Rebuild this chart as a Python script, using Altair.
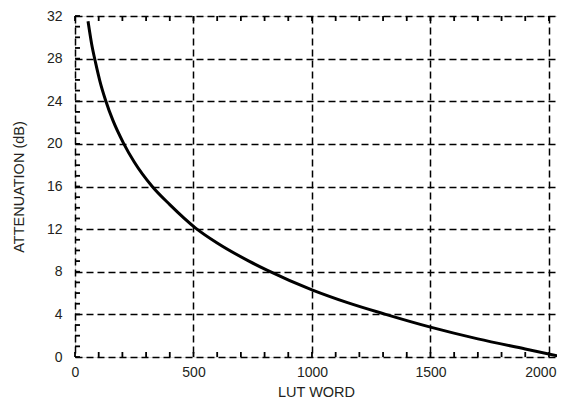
import altair as alt
import pandas as pd

# curve values
lut_word = [55, 70, 87, 105, 129, 160, 204, 250, 326, 400, 509, 600, 734, 810, 1000, 1150, 1311, 1500, 1700, 1900, 2048]
atten_db = [31.5, 29.4, 27.6, 25.9, 24.1, 22.2, 20.1, 18.3, 16.0, 14.3, 12.1, 10.7, 9.0, 8.15, 6.3, 5.1, 4.0, 2.8, 1.7, 0.75, 0.05]

x_major = [0, 500, 1000, 1500, 2000]
y_major = [0, 4, 8, 12, 16, 20, 24, 28, 32]
x_minor = list(range(0, 2001, 100))
y_minor = list(range(0, 33, 1))

df = pd.DataFrame({"word": lut_word, "db": atten_db})
xm = pd.DataFrame({"v": x_minor})
ym = pd.DataFrame({"v": y_minor})

FONT = "Liberation Sans"
TXT = "#231f20"

XMAX = 2034
xscale = alt.Scale(domain=[0, XMAX], nice=False, zero=False)
yscale = alt.Scale(domain=[0, 32], nice=False, zero=False)

grid_kw = dict(grid=True, gridDash=[7, 4], gridColor="black", gridWidth=1.5,
               ticks=False, domain=False, labelFont=FONT, labelFontSize=14,
               labelColor=TXT, titleFont=FONT, titleFontSize=14.5,
               titleFontWeight="normal", titleColor=TXT, format="d")

xaxis = alt.Axis(values=x_major, title="LUT WORD", labelPadding=8, titlePadding=6,
                 labelAlign={"condition": {"test": "datum.value >= 2000", "value": "right"}, "value": "center"},
                 labelOffset={"condition": {"test": "datum.value >= 2000", "value": 7}, "value": 0},
                 **grid_kw)
yaxis = alt.Axis(values=y_major, title="ATTENUATION (dB)", labelPadding=13, titlePadding=20, **grid_kw)

line = alt.Chart(df).mark_line(color="black", strokeWidth=3, interpolate="monotone", clip=True).encode(
    x=alt.X("word:Q", scale=xscale, axis=xaxis, title="LUT WORD"),
    y=alt.Y("db:Q", scale=yscale, axis=yaxis, title="ATTENUATION (dB)"),
)

tick_x_len = 0.47   # in data units of y (about 5 px)
tick_y_len = 21     # in data units of x (about 5 px)

def xf():
    return alt.X("v:Q", scale=xscale, axis=xaxis, title="LUT WORD")

def yf():
    return alt.Y("v:Q", scale=yscale, axis=yaxis, title="ATTENUATION (dB)")

def yd(val):
    return alt.YDatum(val, scale=yscale, axis=yaxis, title="ATTENUATION (dB)")

def xd(val):
    return alt.XDatum(val, scale=xscale, axis=xaxis, title="LUT WORD")

bx = alt.Chart(xm).mark_rule(color="black", strokeWidth=1.8).encode(
    x=xf(), y=yd(0), y2=alt.datum(tick_x_len))
tx = alt.Chart(xm).mark_rule(color="black", strokeWidth=1.8).encode(
    x=xf(), y=yd(32), y2=alt.datum(32 - tick_x_len))
ly = alt.Chart(ym).mark_rule(color="black", strokeWidth=1.8).encode(
    y=yf(), x=xd(0), x2=alt.datum(tick_y_len))

chart = alt.layer(line, bx, tx, ly).properties(
    width=482, height=341,
    autosize=alt.AutoSizeParams(type="none"),
    padding={"left": 67, "top": 8, "right": 0, "bottom": 42},
).configure_view(stroke="black", strokeWidth=3).configure(background="white")

chart.save("out.html", embed_options={"renderer": "svg", "actions": False})
